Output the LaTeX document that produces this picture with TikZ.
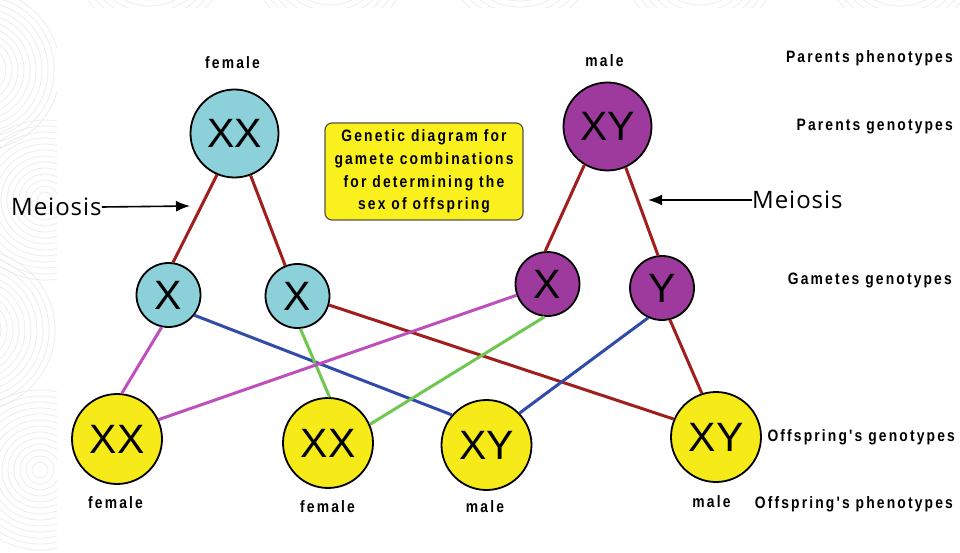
\documentclass[tikz,border=0pt]{standalone}
\usepackage{fontspec}
\usetikzlibrary{arrows.meta}
\setmainfont{Liberation Sans}
\newfontfamily\labf[FakeStretch=0.84,LetterSpace=13]{Liberation Sans}
\newfontfamily\meio[LetterSpace=4]{Open Sans}
\definecolor{cyanc}{RGB}{140,208,218}
\definecolor{purp}{RGB}{158,58,158}
\definecolor{yel}{RGB}{246,234,25}
\definecolor{boxyel}{RGB}{250,240,30}
\definecolor{lred}{RGB}{160,30,30}
\definecolor{lmag}{RGB}{190,80,190}
\definecolor{lblue}{RGB}{50,75,170}
\definecolor{lgreen}{RGB}{110,200,80}
\begin{document}
\begin{tikzpicture}[x=1pt,y=-1pt,
  circ/.style={circle,draw=black,line width=1.8pt,inner sep=0pt,font=\fontsize{41}{41}\selectfont},
  bigc/.style={circ,minimum size=88pt},
  gamc/.style={circ,minimum size=64pt},
  lab/.style={font=\labf\bfseries\fontsize{16.5}{18}\selectfont,inner sep=0pt},
  link/.style={line width=3pt},
  meiarrow/.style={line width=1.6pt,-{Latex[length=14pt,width=11pt]}},
  meitext/.style={font=\meio\fontsize{24}{24}\selectfont,inner sep=0pt}]
\useasboundingbox (0,0) rectangle (960,553);
\fill[white] (0,0) rectangle (960,553);
% faint background pattern
\begin{scope}
\clip (0,0) rectangle (57,553) (57,0) rectangle (960,8);
\foreach \cx/\cy in {-20/70, 45/200, -25/330, 40/470, 150/-50, 330/-45, 520/-55, 700/-45, 900/-50}{
  \foreach \r in {8,14,...,80}{
    \draw[gray!16,line width=0.7pt] (\cx,\cy) circle[radius=\r];
  }
}
\end{scope}
% nodes
\node[bigc,fill=cyanc] (pf) at (234.5,133.5) {XX};
\node[bigc,fill=purp] (pm) at (607.5,126.5) {XY};
\node[gamc,fill=cyanc] (g1) at (168.5,295) {X};
\node[gamc,fill=cyanc] (g2) at (297.5,296) {X};
\node[gamc,fill=purp] (g3) at (547.5,284) {X};
\node[gamc,fill=purp] (g4) at (662,288) {Y};
\node[bigc,fill=yel,minimum size=90pt] (o1) at (117,439) {XX};
\node[bigc,fill=yel,minimum size=90pt] (o2) at (328,443) {XX};
\node[bigc,fill=yel,minimum size=90pt] (o3) at (486.5,445) {XY};
\node[bigc,fill=yel,minimum size=90pt] (o4) at (716,437) {XY};
% connectors
\draw[link,lred] (pf.247) -- (g1.82);
\draw[link,lred] (pf.291) -- (g2.112);
\draw[link,lred] (pm.239) -- (g3.94);
\draw[link,lred] (pm.294) -- (g4.97);
\draw[link,lmag] (g1.258) -- (o1.84);
\draw[link,lblue] (g1.322) -- (o3.139);
\draw[link,lgreen] (g2.275) -- (o2.88);
\draw[link,lred] (g2.344) -- (o4.157);
\draw[link,lmag] (g3.200) -- (o1.25);
\draw[link,lgreen] (g3.265) -- (o2.24);
\draw[link,lblue] (g4.245) -- (o3.44);
\draw[link,lred] (g4.284) -- (o4.108);
% info box
\node[draw=black!75!yellow,line width=1.2pt,fill=boxyel,rounded corners=7pt,
  minimum width=198pt,minimum height=97pt,inner sep=0pt,align=center,
  font=\labf\bfseries\fontsize{16.5}{22.6}\selectfont] (box) at (424,171.5)
  {Genetic diagram for\\gamete combinations\\for determining the\\sex of offspring};
% phenotype labels
\node[lab] (lf) at (232.5,63) {female};
\node[lab] (lm) at (604.5,61) {male};
\node[lab] (l1) at (115.5,502.5) {female};
\node[lab] (l2) at (327.5,507) {female};
\node[lab] (l3) at (485,507) {male};
\node[lab] (l4) at (711.5,502) {male};
% row labels
\node[lab,anchor=east] (r1) at (953,58) {Parents phenotypes};
\node[lab,anchor=east] (r2) at (953,127) {Parents genotypes};
\node[lab,anchor=east] (r3) at (952,280) {Gametes genotypes};
\node[lab,anchor=east] (r4) at (955,437) {Offspring's genotypes};
\node[lab,anchor=east] (r5) at (953,504) {Offspring's phenotypes};
% Meiosis arrows
\node[meitext,anchor=west] (m1) at (11,207) {Meiosis};
\coordinate (m1tip) at (190,206);
\draw[meiarrow] (m1.east) -- (m1tip);
\node[meitext,anchor=west] (m2) at (752,200) {Meiosis};
\coordinate (m2tip) at (648,200);
\draw[meiarrow] (m2.west) -- (m2tip);
\end{tikzpicture}
\end{document}
